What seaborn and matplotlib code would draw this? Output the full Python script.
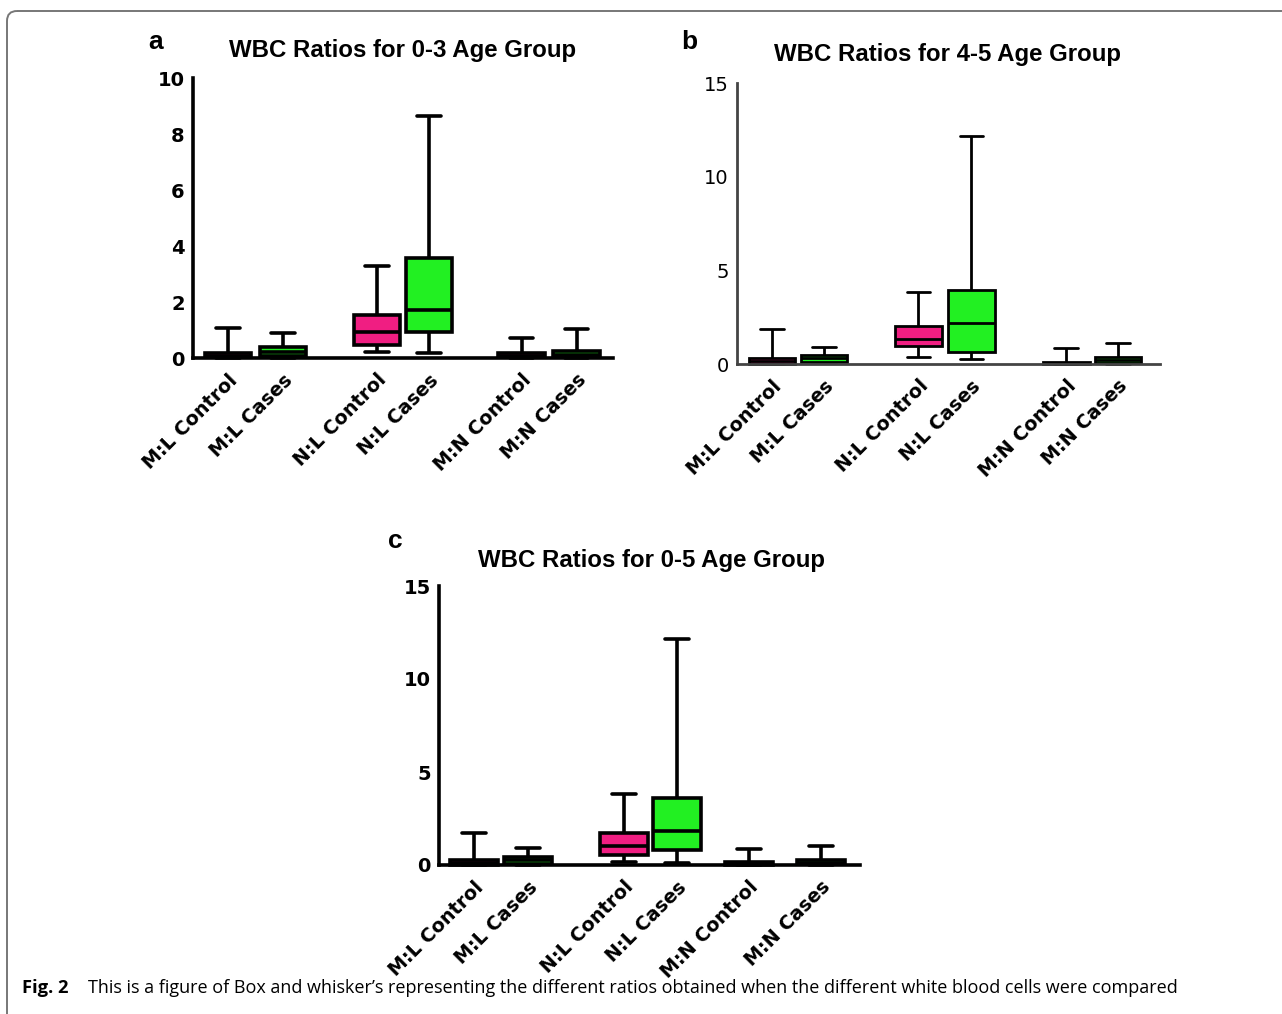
import pandas as pd
import matplotlib.pyplot as plt
import seaborn as sns
from matplotlib.patches import FancyBboxPatch

# five-number summaries (min, q1, median, q3, max)
categories = ["M:L Control", "M:L Cases", "N:L Control", "N:L Cases", "M:N Control", "M:N Cases"]

a_min = [0.00, 0.00, 0.21, 0.18, 0.00, 0.00]
a_q1 = [0.02, 0.08, 0.48, 0.93, 0.02, 0.03]
a_med = [0.08, 0.22, 0.93, 1.73, 0.08, 0.12]
a_q3 = [0.17, 0.38, 1.55, 3.57, 0.18, 0.24]
a_max = [1.07, 0.89, 3.27, 8.63, 0.71, 1.05]

b_min = [0.00, 0.03, 0.36, 0.25, 0.00, 0.00]
b_q1 = [0.02, 0.12, 0.96, 0.66, 0.02, 0.05]
b_med = [0.15, 0.30, 1.32, 2.21, 0.06, 0.20]
b_q3 = [0.30, 0.48, 2.03, 3.96, 0.12, 0.36]
b_max = [1.85, 0.89, 3.87, 12.19, 0.84, 1.10]

c_min = [0.00, 0.00, 0.14, 0.09, 0.00, 0.00]
c_q1 = [0.02, 0.06, 0.54, 0.81, 0.02, 0.03]
c_med = [0.13, 0.25, 1.04, 1.83, 0.08, 0.13]
c_q3 = [0.27, 0.45, 1.70, 3.62, 0.18, 0.27]
c_max = [1.70, 0.90, 3.80, 12.13, 0.84, 1.02]

PINK = "#F01E82"
GREEN = "#22F022"
palette = {c: (PINK if "Control" in c else GREEN) for c in categories}

sns.set_style("white")
plt.rcParams["font.family"] = ["Liberation Sans", "DejaVu Sans"]
plt.rcParams.update({"text.color": "black", "xtick.color": "black",
                     "ytick.color": "black", "axes.labelcolor": "black"})

W, H = 1282, 1014
fig = plt.figure(figsize=(W / 100, H / 100), dpi=100)

# background layer in pixel coordinates for frame, labels and caption
bg = fig.add_axes([0, 0, 1, 1], zorder=-1)
bg.set_xlim(0, W)
bg.set_ylim(H, 0)
bg.axis("off")
bg.add_patch(FancyBboxPatch((7, 11), 1400, 1100,
                            boxstyle="round,pad=0,rounding_size=10",
                            fc="none", ec="#777777", lw=1.4))


def make_df(mins, q1s, meds, q3s, maxs, positions):
    rows = []
    for i, cat in enumerate(categories):
        for v in (mins[i], q1s[i], meds[i], q3s[i], maxs[i]):
            rows.append({"pos": positions[i], "label": cat, "value": v})
    return pd.DataFrame(rows)


def panel(rect, df, positions, xlim, yticks, lw, ylab_weight, spine_col):
    left, top, right, bottom = rect
    ax = fig.add_axes([left / W, 1 - bottom / H, (right - left) / W, (bottom - top) / H])
    sns.boxplot(
        data=df, x="pos", y="value", hue="label", palette=palette,
        native_scale=True, legend=False, whis=(0, 100), width=0.9,
        saturation=1, linecolor="black", linewidth=lw, ax=ax,
    )
    for art in ax.patches + ax.lines:
        art.set_clip_on(False)
    ax.set_xlim(*xlim)
    ax.set_ylim(0, yticks[-1])
    ax.set_yticks(yticks)
    ax.set_yticklabels([str(t) for t in yticks], fontsize=14,
                       fontweight=ylab_weight, family="DejaVu Sans")
    ax.set_xticks(positions)
    ax.set_xticklabels(categories, rotation=45, ha="right", va="top",
                       rotation_mode="anchor", fontsize=13.8, fontweight="bold",
                       family="DejaVu Sans")
    ax.set_xlabel("")
    ax.set_ylabel("")
    sns.despine(ax=ax)
    for s in ("left", "bottom"):
        ax.spines[s].set_linewidth(lw)
        ax.spines[s].set_color(spine_col)
    ax.tick_params(axis="y", length=4, width=lw, pad=2, color=spine_col)
    ax.tick_params(axis="x", length=6, width=lw, pad=3, color=spine_col)
    ax.set_facecolor("none")
    return ax


pos_a = [0, 1.02, 2.76, 3.72, 5.44, 6.46]
pos_b = [0, 0.99, 2.79, 3.80, 5.61, 6.60]
pos_c = [0, 1.0, 2.78, 3.76, 5.09, 6.43]

panel((193, 78, 613, 358), make_df(a_min, a_q1, a_med, a_q3, a_max, pos_a), pos_a,
      (-0.648, 7.13), [0, 2, 4, 6, 8, 10], 2.6, "bold", "black")
panel((737, 83, 1160, 364), make_df(b_min, b_q1, b_med, b_q3, b_max, pos_b), pos_b,
      (-0.67, 7.40), [0, 5, 10, 15], 2.0, "normal", "#444444")
panel((439, 586, 860, 865), make_df(c_min, c_q1, c_med, c_q3, c_max, pos_c), pos_c,
      (-0.65, 7.15), [0, 5, 10, 15], 2.6, "bold", "black")

# titles and panel letters
for x, y, txt in [(403, 50, "WBC Ratios for 0-3 Age Group"),
                  (947, 55, "WBC Ratios for 4-5 Age Group"),
                  (651, 560, "WBC Ratios for 0-5 Age Group")]:
    bg.text(x, y, txt, ha="center", va="center", fontsize=17.3, fontweight="bold")
for x, y, txt in [(156, 42, "a"), (689, 42, "b"), (395, 541, "c")]:
    bg.text(x, y, txt, ha="center", va="center", fontsize=19, fontweight="bold")

# caption
bg.text(22, 988, "Fig. 2", ha="left", va="center", fontsize=13.2,
        fontweight="bold", family="Open Sans")
bg.text(88, 988, "This is a figure of Box and whisker\u2019s representing the different ratios "
        "obtained when the different white blood cells were compared",
        ha="left", va="center", fontsize=13, family="Open Sans")

fig.savefig("out.png", dpi=100)
